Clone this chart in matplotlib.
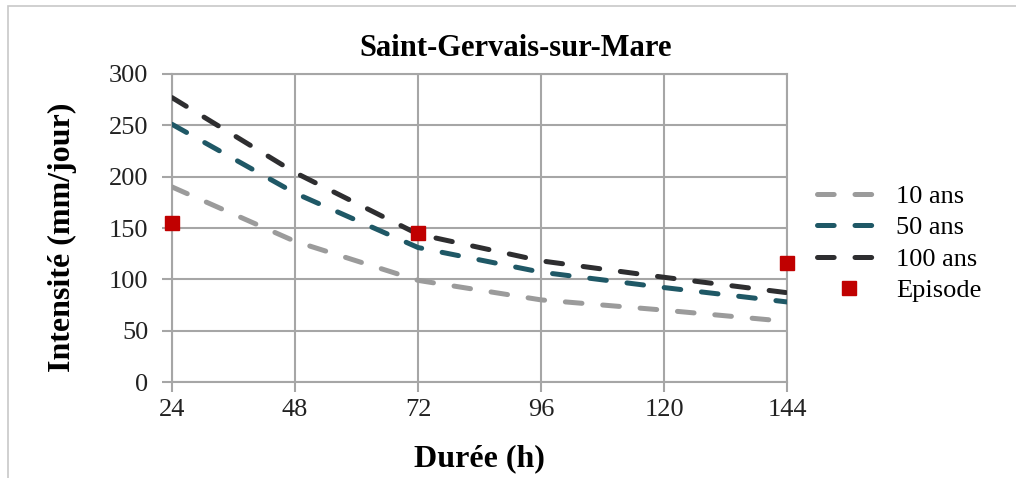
import numpy as np
import matplotlib
matplotlib.use('Agg')
import matplotlib.pyplot as plt
from matplotlib.patches import Rectangle

plt.rcParams['font.family'] = ['Liberation Serif', 'DejaVu Serif']
plt.rcParams['lines.scale_dashes'] = False

# data
duree = [24, 48, 72, 96, 120, 144]
ans_10 = [190, 137, 99, 80, 70, 59]
ans_50 = [251, 184, 131, 107, 92, 78]
ans_100 = [277, 204, 144, 118, 102, 87]
episode_x = [24, 72, 144]
episode_y = [155, 145, 116]

grid_col = '#a6a6a6'

fig = plt.figure(figsize=(10.16, 4.78), dpi=100)
ax = fig.add_axes([0.1693, 0.2008, 0.6053, 0.6444])

# outer frame of the chart area
fig.patches.append(Rectangle((8 / 1016, -0.1), 1.2, 472 / 478 + 0.1,
                             transform=fig.transFigure, fill=False,
                             edgecolor='#c8c8c8', linewidth=1.2))

ax.plot(duree, ans_10, color='#9b9b9b', lw=3.6, dashes=(12, 15),
        dash_capstyle='round', label='10 ans', zorder=3)
ax.plot(duree, ans_50, color='#1f5866', lw=3.6, dashes=(12, 15),
        dash_capstyle='round', label='50 ans', zorder=3)
ax.plot(duree, ans_100, color='#2e2e30', lw=3.6, dashes=(12, 15),
        dash_capstyle='round', label='100 ans', zorder=3)
ax.plot(episode_x, episode_y, linestyle='none', marker='s', markersize=9.5,
        color='#c00000', label='Episode', zorder=4, clip_on=False)

ax.set_xlim(24, 144)
ax.set_ylim(0, 300)
ax.set_xticks(duree)
ax.set_yticks(range(0, 301, 50))
ax.grid(True, color=grid_col, linewidth=1.5)
for s in ax.spines.values():
    s.set_color(grid_col)
    s.set_linewidth(1.5)
ax.tick_params(axis='both', colors=grid_col, length=7, width=1.5,
               labelcolor='#222222', labelsize=19)
ax.tick_params(axis='x', pad=5)
ax.tick_params(axis='y', pad=10)

ax.set_title('Saint-Gervais-sur-Mare', fontsize=22, fontweight='bold',
             x=0.558, pad=13)
ax.set_xlabel('Durée (h)', fontsize=23, fontweight='bold', labelpad=17)
ax.set_ylabel('Intensité (mm/jour)', fontsize=23, fontweight='bold',
              labelpad=23, y=0.47)

leg = ax.legend(loc='center left', bbox_to_anchor=(1.01, 0.45), frameon=False,
                fontsize=19, handlelength=2.4, handletextpad=0.6,
                labelspacing=0.3)

fig.savefig('out.png', dpi=100)
